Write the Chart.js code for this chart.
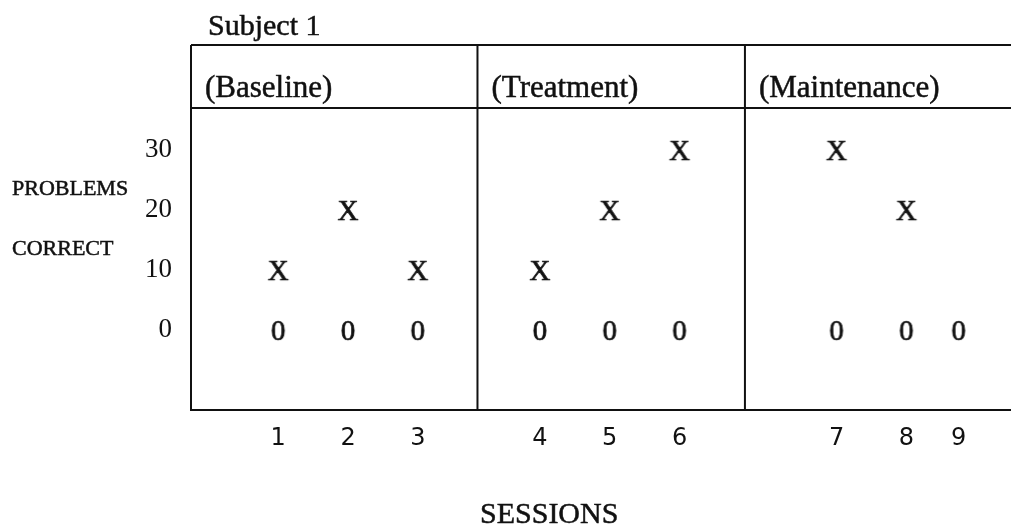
<!DOCTYPE html>
<html>
<head>
<meta charset="utf-8">
<script src="https://cdn.jsdelivr.net/npm/chart.js@4.4.1/dist/chart.umd.min.js"></script>
<style>
html, body { margin: 0; padding: 0; background: #fff; overflow: hidden; }
#wrap { width: 1011px; height: 526px; position: relative; }
</style>
</head>
<body>
<div id="wrap"><canvas id="chart"></canvas></div>
<script>
// values
const sessions = ["1", "2", "3", "4", "5", "6", "7", "8", "9"];
const markX = [10, 20, 10, 10, 20, 30, 30, 20, null];
const mark0 = [0, 0, 0, 0, 0, 0, 0, 0, 0];
const yTicks = [0, 10, 20, 30];
const phases = ["(Baseline)", "(Treatment)", "(Maintenance)"];

// layout: sessions sit on a slotted category axis, blank slots make the gaps
const slotCount = 48;
const sessionSlot = [5, 9, 13, 20, 24, 28, 37, 41, 44];
const dividerSlot = [16.42, 31.75];
const headerValue = 37;

const INK = "#111";
const SERIF = "'Liberation Serif', 'Times New Roman', serif";

const labels = new Array(slotCount).fill("");
const dataX = new Array(slotCount).fill(null);
const data0 = new Array(slotCount).fill(null);
sessions.forEach((s, i) => {
  labels[sessionSlot[i]] = s;
  dataX[sessionSlot[i]] = markX[i];
  data0[sessionSlot[i]] = mark0[i];
});

// typed marks ("X" and "0") as point images
function glyph(ch) {
  const c = document.createElement("canvas");
  c.width = 36;
  c.height = 36;
  const g = c.getContext("2d");
  g.font = "29px " + SERIF;
  g.fillStyle = INK;
  g.strokeStyle = INK;
  g.lineWidth = 0.7;
  g.textAlign = "center";
  g.textBaseline = "alphabetic";
  const m = g.measureText(ch);
  const h = m.actualBoundingBoxAscent + m.actualBoundingBoxDescent;
  const y = 18 + h / 2 - m.actualBoundingBoxDescent;
  g.fillText(ch, 18, y);
  g.strokeText(ch, 18, y);
  return c;
}

function inkText(ctx, t, x, y) {
  ctx.fillText(t, x, y);
  ctx.strokeText(t, x, y);
}

const framePlugin = {
  id: "frame",
  afterDraw(chart) {
    const { ctx, chartArea: a, scales } = chart;
    const xs = scales.x, ys = scales.y;
    const hy = ys.getPixelForValue(headerValue);
    ctx.save();
    ctx.strokeStyle = INK;
    ctx.lineWidth = 2;
    ctx.beginPath();
    ctx.moveTo(a.left, a.top);
    ctx.lineTo(a.left, a.bottom);
    ctx.lineTo(chart.width, a.bottom);
    ctx.moveTo(a.left, a.top);
    ctx.lineTo(chart.width, a.top);
    ctx.moveTo(a.left, hy);
    ctx.lineTo(chart.width, hy);
    const divX = dividerSlot.map((s) => xs.getPixelForValue(s));
    divX.forEach((x) => {
      ctx.moveTo(x, a.top);
      ctx.lineTo(x, a.bottom);
    });
    ctx.stroke();

    ctx.fillStyle = INK;
    ctx.lineWidth = 0.5;
    ctx.textBaseline = "alphabetic";
    ctx.textAlign = "left";
    ctx.font = "31px " + SERIF;
    const starts = [a.left].concat(divX);
    phases.forEach((p, i) => {
      inkText(ctx, p, starts[i] + 14, hy - 11);
    });
    ctx.font = "30px " + SERIF;
    inkText(ctx, "Subject 1", a.left + 17, a.top - 10);

    ctx.font = "22px " + SERIF;
    inkText(ctx, "PROBLEMS", 12, 195);
    inkText(ctx, "CORRECT", 12, 255);

    ctx.font = "30px " + SERIF;
    inkText(ctx, "SESSIONS", 480, 523);
    ctx.restore();
  },
};

new Chart(document.getElementById("chart"), {
  type: "line",
  data: {
    labels: labels,
    datasets: [
      {
        label: "X",
        data: dataX,
        showLine: false,
        pointStyle: glyph("X"),
        pointRadius: 10,
        pointHoverRadius: 10,
      },
      {
        label: "0",
        data: data0,
        showLine: false,
        pointStyle: glyph("0"),
        pointRadius: 10,
        pointHoverRadius: 10,
      },
    ],
  },
  options: {
    responsive: true,
    maintainAspectRatio: false,
    animation: false,
    layout: { autoPadding: false, padding: { top: 45, right: 0, bottom: 0, left: 0 } },
    plugins: { legend: { display: false }, tooltip: { enabled: false } },
    scales: {
      x: {
        type: "category",
        offset: false,
        grid: { display: false, drawTicks: false },
        border: { display: false },
        ticks: {
          autoSkip: false,
          maxRotation: 0,
          padding: 0,
          color: INK,
          font: { family: "'DejaVu Sans', sans-serif", size: 24, lineHeight: 2.42 },
        },
        afterFit(s) {
          s.height = 116;
          s.paddingLeft = 0;
          s.paddingRight = 0;
        },
      },
      y: {
        min: -13.33,
        max: 47.5,
        grid: { display: false, drawTicks: false },
        border: { display: false },
        afterBuildTicks(s) { s.ticks = yTicks.map((v) => ({ value: v })); },
        ticks: {
          padding: 19,
          color: INK,
          font: { family: SERIF, size: 27 },
        },
        afterFit(s) {
          s.width = 191;
          s.paddingTop = 0;
          s.paddingBottom = 0;
        },
      },
    },
  },
  plugins: [framePlugin],
});
</script>
</body>
</html>
